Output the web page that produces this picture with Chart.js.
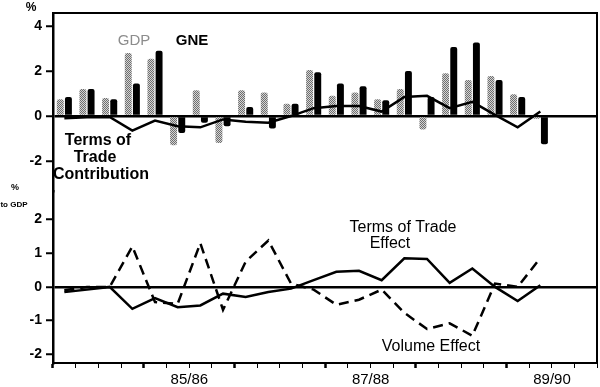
<!DOCTYPE html>
<html>
<head>
<meta charset="utf-8">
<script src="https://cdn.jsdelivr.net/npm/chart.js@4.4.1/dist/chart.umd.min.js"></script>
<style>
  html, body { margin: 0; padding: 0; background: #fff; }
  #wrap { position: relative; width: 600px; height: 387px; }
</style>
</head>
<body>
<div id="wrap"><canvas id="chart"></canvas></div>
<script>
// quarters, Sep 84 to Jun 90
const quarters = ['Sep 84', 'Dec 84', 'Mar 85', 'Jun 85', 'Sep 85', 'Dec 85', 'Mar 86', 'Jun 86',
    'Sep 86', 'Dec 86', 'Mar 87', 'Jun 87', 'Sep 87', 'Dec 87', 'Mar 88', 'Jun 88',
    'Sep 88', 'Dec 88', 'Mar 89', 'Jun 89', 'Sep 89', 'Dec 89', 'Mar 90', 'Jun 90'];
const years = ['84/85', '85/86', '86/87', '87/88', '88/89', '89/90'];
const shownYears = ['85/86', '87/88', '89/90'];

// top panel, quarterly growth (%)
const gdp = [0.75, 1.2, 0.8, 2.8, 2.55, -1.3, 1.15, -1.2, 1.15, 1.05, 0.55,
    2.05, 0.9, 1.05, 0.75, 1.2, -0.6, 1.9, 1.6, 1.78, 0.97, -0.12];
const gne = [0.85, 1.2, 0.75, 1.45, 2.9, -0.75, -0.3, -0.45, 0.4, -0.55, 0.55,
    1.95, 1.45, 1.33, 0.7, 2.0, 0.85, 3.07, 3.27, 1.6, 0.85, -1.25];
const totContribution = [-0.1, -0.05, -0.04, -0.65, -0.2, -0.45, -0.5, -0.15, -0.25, -0.3, 0.0,
    0.35, 0.45, 0.45, 0.2, 0.85, 0.9, 0.35, 0.63, 0.05, -0.5, 0.2];

// bottom panel, % to GDP
const totEffect = [-0.15, -0.08, 0, -0.65, -0.33, -0.6, -0.55, -0.2, -0.3, -0.15, -0.05,
    0.2, 0.45, 0.48, 0.2, 0.85, 0.83, 0.12, 0.55, 0.0, -0.42, 0.05];
const volumeEffect = [-0.1, 0, 0, 1.2, -0.45, -0.5, 1.3, -0.68, 0.75, 1.38, 0.1,
    -0.08, -0.53, -0.38, -0.08, -0.77, -1.25, -1.08, -1.45, 0.1, 0.0, 0.86];

const topTicks = [4, 2, 0, -2];
const bottomTicks = [2, 1, 0, -1, -2];

const FONT = "'Liberation Sans', Arial, sans-serif";

const canvas = document.getElementById('chart');

// grey stipple used for the GDP bars
function stipple() {
    const c = document.createElement('canvas');
    c.width = 2;
    c.height = 2;
    const g = c.getContext('2d');
    g.fillStyle = '#d4d4d4';
    g.fillRect(0, 0, 2, 2);
    g.fillStyle = '#6e6e6e';
    g.fillRect(0, 0, 1, 1);
    g.fillRect(1, 1, 1, 1);
    return canvas.getContext('2d').createPattern(c, 'repeat');
}

// frame on top/right plus the text labels
const frame = {
    id: 'frame',
    afterDraw(chart) {
        const { ctx, chartArea: a } = chart;
        ctx.save();
        ctx.strokeStyle = '#000';
        ctx.lineWidth = 2;
        ctx.beginPath();
        ctx.moveTo(a.left, a.top);
        ctx.lineTo(a.right, a.top);
        ctx.lineTo(a.right, a.bottom);
        ctx.stroke();

        const notes = [
            ['%', 31, 8, 'bold 12px', '#000'],
            ['GDP', 134, 41, '15px', '#8c8c8c'],
            ['GNE', 192, 41, 'bold 15px', '#000'],
            ['Terms of', 98, 141, 'bold 16px', '#000'],
            ['Trade', 95, 158, 'bold 16px', '#000'],
            ['Contribution', 101, 175, 'bold 16px', '#000'],
            ['%', 15, 188, 'bold 9px', '#000'],
            ['to GDP', 14, 205, 'bold 8px', '#000'],
            ['Terms of Trade', 403, 228, '16px', '#000'],
            ['Effect', 390, 244, '16px', '#000'],
            ['Volume Effect', 431, 347, '16px', '#000']
        ];
        ctx.textAlign = 'center';
        ctx.textBaseline = 'middle';
        notes.forEach(([text, x, y, font, color]) => {
            ctx.font = font + ' ' + FONT;
            ctx.fillStyle = color;
            ctx.fillText(text, x, y);
        });
        ctx.restore();
    }
};

function yGrid() {
    return {
        color: c => (c.tick && c.tick.value === 0 ? '#000' : 'rgba(0,0,0,0)'),
        lineWidth: 2.5,
        tickColor: '#000',
        tickWidth: 2,
        tickLength: 7
    };
}

const yTickStyle = {
    color: '#000',
    padding: 4,
    font: { family: FONT, size: 14, weight: 'bold' }
};

new Chart(canvas, {
    type: 'bar',
    data: {
        labels: quarters,
        datasets: [
            {
                label: 'GDP',
                data: gdp,
                yAxisID: 'yTop',
                backgroundColor: stipple(),
                categoryPercentage: 0.72,
                barPercentage: 0.85,
                borderRadius: 2,
                order: 2
            },
            {
                label: 'GNE',
                data: gne,
                yAxisID: 'yTop',
                backgroundColor: '#000',
                categoryPercentage: 0.72,
                barPercentage: 0.85,
                borderRadius: 2,
                order: 2
            },
            {
                type: 'line',
                label: 'Terms of Trade Contribution',
                data: totContribution,
                yAxisID: 'yTop',
                borderColor: '#000',
                borderWidth: 2.5,
                pointRadius: 0,
                tension: 0,
                order: 1
            },
            {
                type: 'line',
                label: 'Terms of Trade Effect',
                data: totEffect,
                yAxisID: 'yBottom',
                borderColor: '#000',
                borderWidth: 2.5,
                pointRadius: 0,
                tension: 0,
                order: 1
            },
            {
                type: 'line',
                label: 'Volume Effect',
                data: volumeEffect,
                yAxisID: 'yBottom',
                borderColor: '#000',
                borderWidth: 2.5,
                borderDash: [10, 6],
                pointRadius: 0,
                tension: 0,
                order: 1
            }
        ]
    },
    options: {
        responsive: true,
        maintainAspectRatio: false,
        animation: false,
        layout: { padding: { top: 13, right: 3, left: 0, bottom: 0 } },
        plugins: {
            legend: { display: false },
            tooltip: { enabled: false }
        },
        scales: {
            x: {
                offset: true,
                grid: {
                    offset: true,
                    drawOnChartArea: false,
                    tickLength: 5,
                    tickColor: '#000',
                    tickWidth: c => (c.index % 4 === 0 ? 2.5 : 1)
                },
                border: { color: '#000', width: 2 },
                ticks: {
                    autoSkip: false,
                    maxRotation: 0,
                    padding: 3,
                    labelOffset: -11,
                    color: '#000',
                    font: { family: FONT, size: 15 },
                    callback: (v, i) => {
                        if (i % 4 !== 2) return '';
                        const y = years[(i - 2) / 4];
                        return shownYears.includes(y) ? y : '';
                    }
                },
                afterFit: s => { s.height = 24; }
            },
            yBottom: {
                type: 'linear',
                position: 'left',
                stack: 'panels',
                stackWeight: 172,
                min: -2.26,
                max: 2.85,
                afterBuildTicks: s => { s.ticks = bottomTicks.map(v => ({ value: v })); },
                grid: yGrid(),
                border: { color: '#000', width: 2.5 },
                ticks: yTickStyle,
                afterFit: s => { s.width = 53; }
            },
            yTop: {
                type: 'linear',
                position: 'left',
                stack: 'panels',
                stackWeight: 178,
                min: -3.33,
                max: 4.58,
                afterBuildTicks: s => { s.ticks = topTicks.map(v => ({ value: v })); },
                grid: yGrid(),
                border: { color: '#000', width: 2.5 },
                ticks: yTickStyle,
                afterFit: s => { s.width = 53; }
            }
        }
    },
    plugins: [frame]
});
</script>
</body>
</html>
